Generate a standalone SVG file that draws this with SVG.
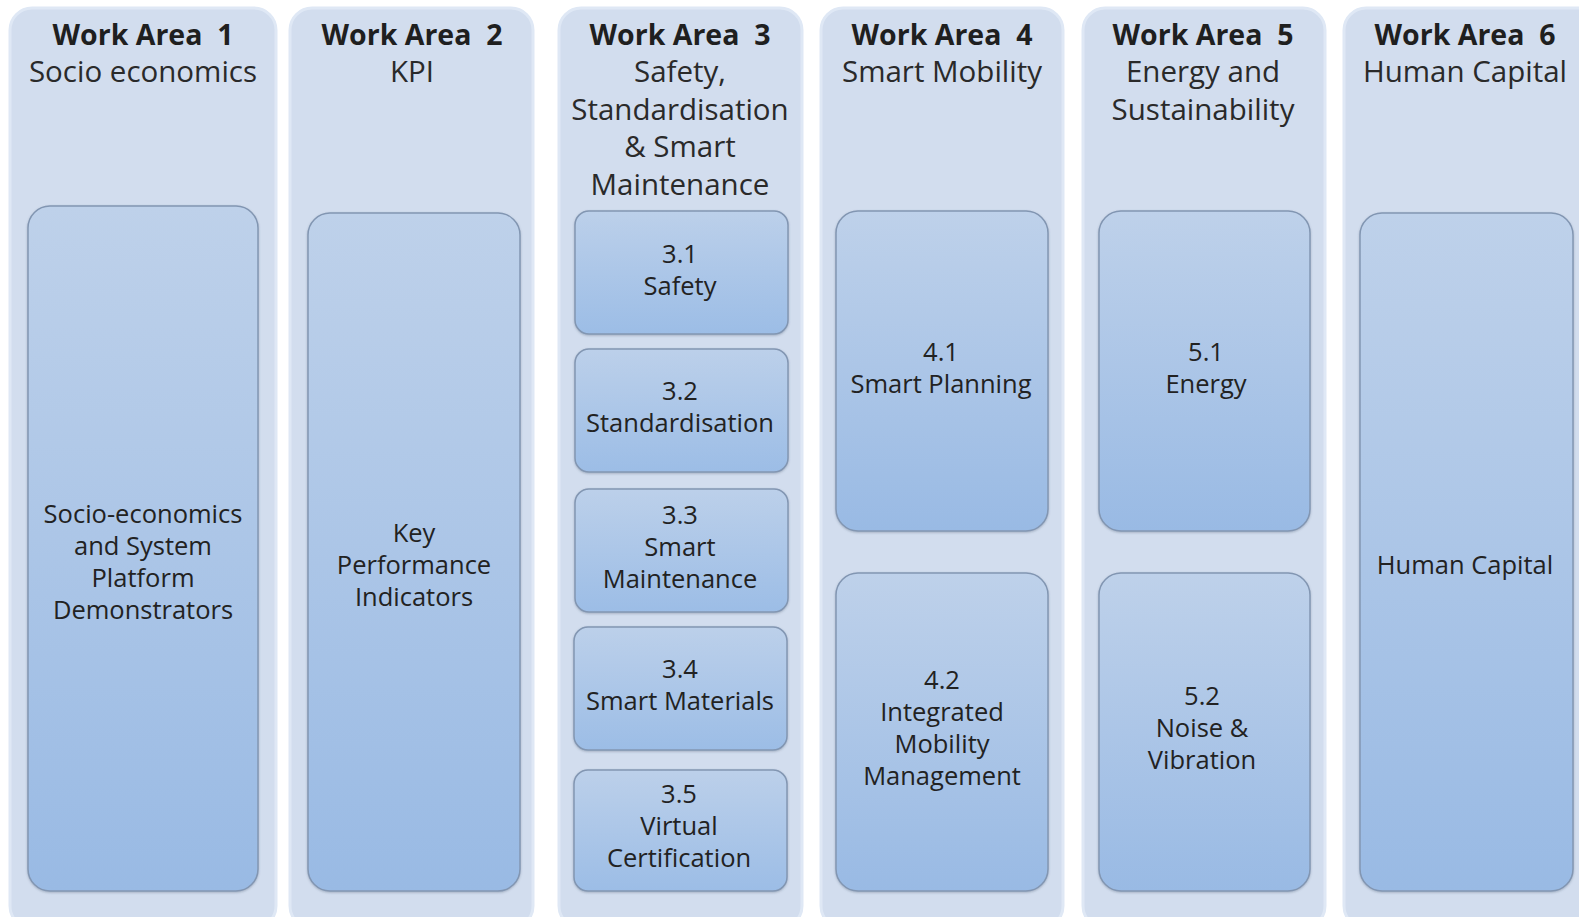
<svg xmlns="http://www.w3.org/2000/svg" width="1579" height="917" viewBox="0 0 1579 917">
<defs>
<linearGradient id="gBig" x1="0" y1="0" x2="0" y2="1">
<stop offset="0" stop-color="#bed1ea"/>
<stop offset="1" stop-color="#99bae4"/>
</linearGradient>
<linearGradient id="gSmall" x1="0" y1="0" x2="0" y2="1">
<stop offset="0" stop-color="#bcd0ea"/>
<stop offset="1" stop-color="#9cbde6"/>
</linearGradient>
<filter id="sh" x="-5%" y="-5%" width="110%" height="110%">
<feDropShadow dx="0" dy="1" stdDeviation="1" flood-color="#4a5a70" flood-opacity="0.35"/>
</filter>
</defs>
<style>
.col{fill:#d2ddee;stroke:#dfe8f5;stroke-width:3}
.big{fill:url(#gBig);stroke:#8296b2;stroke-width:1.5;filter:url(#sh)}
.sm{fill:url(#gSmall);stroke:#8296b2;stroke-width:1.5;filter:url(#sh)}
text{font-family:"Open Sans","Noto Sans","Liberation Sans",sans-serif;text-anchor:middle}
.h{font-size:28.5px;font-weight:bold;fill:#1f1f1f}
.s{font-size:29.5px;fill:#2a2a2a}
.t{font-size:25.5px;fill:#222222}
</style>
<rect width="1579" height="917" fill="#ffffff"/>
<g id="wa1">
<rect class="col" x="10" y="8" width="266" height="920" rx="22"/>
<text class="h" x="143" y="45">Work Area&#160; 1</text>
<text class="s" x="143" y="82">Socio economics</text>
<g id="n1">
<rect class="big" x="28" y="206" width="230" height="685" rx="22"/>
<text class="t" x="143" y="523">Socio-economics</text>
<text class="t" x="143" y="555">and System</text>
<text class="t" x="143" y="587">Platform</text>
<text class="t" x="143" y="619">Demonstrators</text>
</g>
</g>
<g id="wa2">
<rect class="col" x="290" y="8" width="243" height="920" rx="22"/>
<text class="h" x="412" y="45">Work Area&#160; 2</text>
<text class="s" x="412" y="82">KPI</text>
<g id="n2">
<rect class="big" x="308" y="213" width="212" height="678" rx="22"/>
<text class="t" x="414" y="542">Key</text>
<text class="t" x="414" y="574">Performance</text>
<text class="t" x="414" y="606">Indicators</text>
</g>
</g>
<g id="wa3">
<rect class="col" x="559" y="8" width="243" height="920" rx="22"/>
<text class="h" x="680" y="45">Work Area&#160; 3</text>
<text class="s" x="680" y="82">Safety,</text>
<text class="s" x="680" y="120">Standardisation</text>
<text class="s" x="680" y="157">&amp; Smart</text>
<text class="s" x="680" y="195">Maintenance</text>
<g id="n31">
<rect class="sm" x="575" y="211" width="213" height="123" rx="14"/>
<text class="t" x="680" y="263">3.1</text>
<text class="t" x="680" y="295">Safety</text>
</g>
<g id="n32">
<rect class="sm" x="575" y="349" width="213" height="123" rx="14"/>
<text class="t" x="680" y="400">3.2</text>
<text class="t" x="680" y="432">Standardisation</text>
</g>
<g id="n33">
<rect class="sm" x="575" y="489" width="213" height="123" rx="14"/>
<text class="t" x="680" y="524">3.3</text>
<text class="t" x="680" y="556">Smart</text>
<text class="t" x="680" y="588">Maintenance</text>
</g>
<g id="n34">
<rect class="sm" x="574" y="627" width="213" height="123" rx="14"/>
<text class="t" x="680" y="678">3.4</text>
<text class="t" x="680" y="710">Smart Materials</text>
</g>
<g id="n35">
<rect class="sm" x="574" y="770" width="213" height="121" rx="14"/>
<text class="t" x="679" y="803">3.5</text>
<text class="t" x="679" y="835">Virtual</text>
<text class="t" x="679" y="867">Certification</text>
</g>
</g>
<g id="wa4">
<rect class="col" x="821" y="8" width="242" height="920" rx="22"/>
<text class="h" x="942" y="45">Work Area&#160; 4</text>
<text class="s" x="942" y="82">Smart Mobility</text>
<g id="n41">
<rect class="big" x="836" y="211" width="212" height="320" rx="22"/>
<text class="t" x="941" y="361">4.1</text>
<text class="t" x="941" y="393">Smart Planning</text>
</g>
<g id="n42">
<rect class="big" x="836" y="573" width="212" height="318" rx="22"/>
<text class="t" x="942" y="689">4.2</text>
<text class="t" x="942" y="721">Integrated</text>
<text class="t" x="942" y="753">Mobility</text>
<text class="t" x="942" y="785">Management</text>
</g>
</g>
<g id="wa5">
<rect class="col" x="1083" y="8" width="242" height="920" rx="22"/>
<text class="h" x="1203" y="45">Work Area&#160; 5</text>
<text class="s" x="1203" y="82">Energy and</text>
<text class="s" x="1203" y="120">Sustainability</text>
<g id="n51">
<rect class="big" x="1099" y="211" width="211" height="320" rx="22"/>
<text class="t" x="1206" y="361">5.1</text>
<text class="t" x="1206" y="393">Energy</text>
</g>
<g id="n52">
<rect class="big" x="1099" y="573" width="211" height="318" rx="22"/>
<text class="t" x="1202" y="705">5.2</text>
<text class="t" x="1202" y="737">Noise &amp;</text>
<text class="t" x="1202" y="769">Vibration</text>
</g>
</g>
<g id="wa6">
<rect class="col" x="1344" y="8" width="260" height="920" rx="22"/>
<text class="h" x="1465" y="45">Work Area&#160; 6</text>
<text class="s" x="1465" y="82">Human Capital</text>
<g id="n6">
<rect class="big" x="1360" y="213" width="213" height="678" rx="22"/>
<text class="t" x="1465" y="574">Human Capital</text>
</g>
</g>
<g id="connectors"></g>
</svg>
